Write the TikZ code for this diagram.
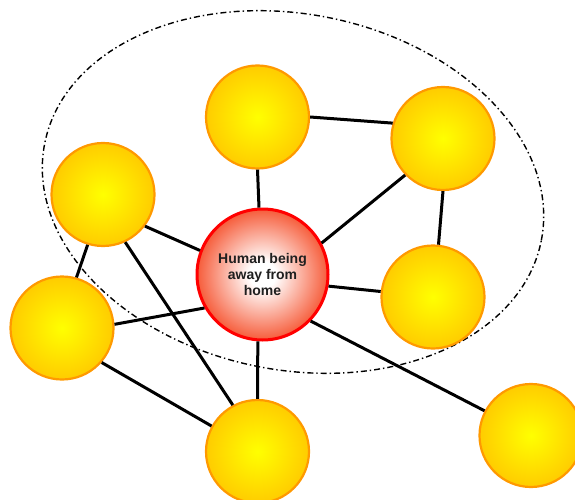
\documentclass[tikz,border=0pt]{standalone}
\usepackage{fontspec}
\setmainfont{Liberation Sans}
\definecolor{ballyellow}{RGB}{255,255,0}
\definecolor{ballgold}{RGB}{255,204,0}
\definecolor{ballorange}{RGB}{255,153,0}
\definecolor{hubred}{RGB}{246,92,58}
\definecolor{hubborder}{RGB}{255,0,0}
\pgfdeclareradialshading{hubshade}{\pgfpoint{0bp}{0bp}}{color(0bp)=(white); color(5bp)=(white); color(25bp)=(hubred); color(50bp)=(hubred)}
\tikzset{
  ball/.style={circle, draw=ballorange, line width=2.2pt, inner sep=0pt,
    minimum size=103pt, inner color=ballyellow, outer color=ballgold},
  hub/.style={circle, draw=hubborder, line width=3pt, inner sep=0pt,
    minimum size=131pt, shading=hubshade,
    align=center, font=\bfseries\fontsize{14}{16}\selectfont, text=black!88},
  link/.style={line width=3pt, black},
  ring/.style={line width=1.4pt, black, dash pattern=on 6pt off 3pt on 1.4pt off 3pt}
}
\begin{document}
\begin{tikzpicture}[x=1pt,y=-1pt]
\path[use as bounding box] (0,0) rectangle (575,500);
\clip (0,0) rectangle (575,500);
\draw[ring, rotate around={-11:(293,192)}] (293,192) ellipse [x radius=253pt, y radius=178pt];

\node[hub] (C) at (262.5,274.5) {Human being\\away from\\home};
\node[ball] (T) at (257.5,117) {};
\node[ball] (TR) at (443,138.5) {};
\node[ball] (LU) at (103,194.5) {};
\node[ball] (RM) at (433,297) {};
\node[ball] (LL) at (62,328) {};
\node[ball] (BC) at (257.5,451.5) {};
\node[ball] (BR) at (531,435.5) {};

\draw[link] (T.-90) -- (C.93.5);
\draw[link] (T.0) -- (TR.163);
\draw[link] (TR.224.4) -- (C.28.8);
\draw[link] (TR.-90) -- (RM.84.3);
\draw[link] (LU.-37.3) -- (C.159.7);
\draw[link] (LU.-107.6) -- (LL.74.4);
\draw[link] (LU.-65.2) -- (BC.118.7);
\draw[link] (LL.4.4) -- (C.210.6);
\draw[link] (LL.-41.2) -- (BC.151.4);
\draw[link] (C.-10.2) -- (RM.174.6);
\draw[link] (C.-94) -- (BC.90);
\draw[link] (C.-44.4) -- (BR.152.1);
\end{tikzpicture}
\end{document}
